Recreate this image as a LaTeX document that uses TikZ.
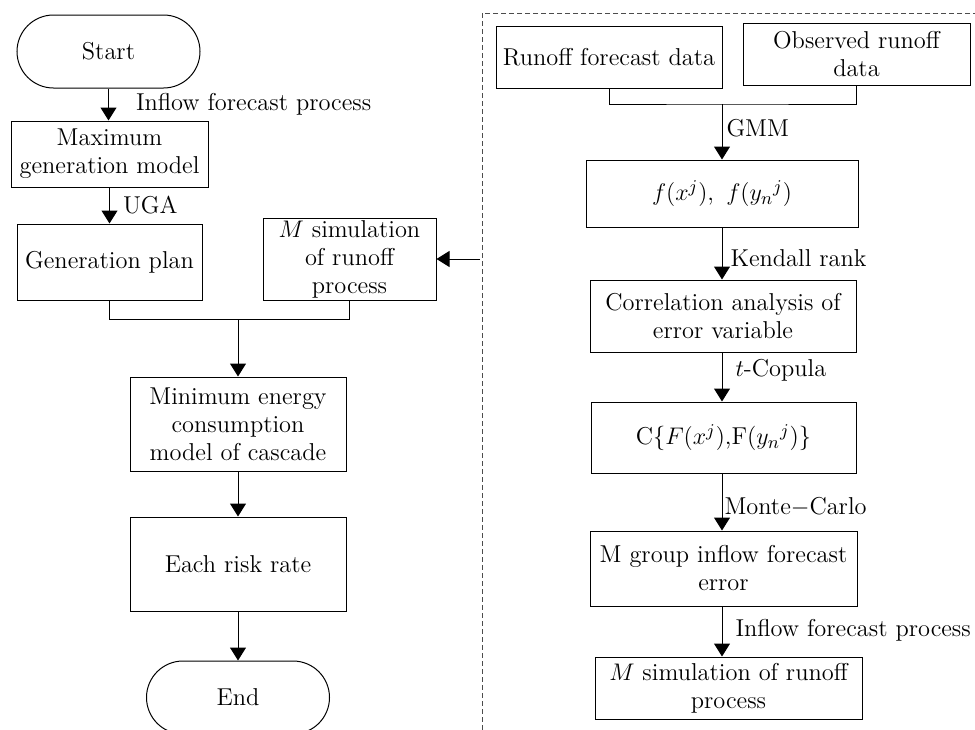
\documentclass[tikz,border=0pt]{standalone}
\usetikzlibrary{arrows.meta,positioning,calc}

\begin{document}
\begin{tikzpicture}[x=0.5pt,y=-0.5pt,
  font=\fontsize{12.2}{14}\selectfont,
  proc/.style={rectangle, draw, line width=0.5pt, align=center, inner sep=1pt},
  term/.style={rectangle, draw, line width=0.5pt, rounded corners=18.25pt, minimum width=91.5pt, minimum height=36.5pt},
  arrow/.style={line width=0.5pt, -{Triangle[length=6.5pt,width=8pt]}},
  lbl/.style={inner sep=1pt}
]
\useasboundingbox (0,0) rectangle (975,729);
\clip (0,0) rectangle (975,729);
% left column
\node[term] (start) at (108.5,51.5) {Start};
\node[proc, minimum width=98.5pt, minimum height=33pt] (maxgen) at (109.5,154) {Maximum\\generation model};
\node[proc, minimum width=92.5pt, minimum height=38pt] (plan) at (109.5,262) {Generation plan};
\node[proc, minimum width=86.5pt, minimum height=41pt] (simL) at (349.5,259) {$M$ simulation\\of runoff\\process};
\node[proc, minimum width=108pt, minimum height=47pt] (minen) at (238,424) {Minimum energy\\consumption\\model of cascade};
\node[proc, minimum width=108pt, minimum height=47pt] (risk) at (238,564) {Each risk rate};
\node[term] (end) at (238,697.5) {End};
% right column
\draw[dashed, dash pattern=on 2.5pt off 1.5pt, line width=0.5pt, black!70] (482,13) rectangle (990,745);
\node[proc, minimum width=113pt, minimum height=31pt] (fcdata) at (609,57) {Runoff forecast data};
\node[proc, minimum width=113.5pt, minimum height=31pt] (obsdata) at (856.5,54) {Observed runoff\\data};
\node[proc, minimum width=136pt, minimum height=33.5pt] (dens) at (722,193.5) {$f(x^j)$,\enspace$f(y_n{}^j)$};
\node[proc, minimum width=133pt, minimum height=36pt] (corr) at (723,316) {Correlation analysis of\\error variable};
\node[proc, minimum width=132.5pt, minimum height=35.5pt] (copula) at (723.5,437.5) {C\{$F(x^j)$,F($y_n{}^j$)\}};
\node[proc, minimum width=133.5pt, minimum height=37.5pt] (mgroup) at (723.5,568.5) {M group inflow forecast\\error};
\node[proc, minimum width=133.5pt, minimum height=31pt] (simR) at (728.5,688) {$M$ simulation of runoff\\process};

% connectors, left
\draw[arrow] (start.south) -- node[lbl, right=12.5pt] {Inflow forecast process} (start.south |- maxgen.north);
\draw[arrow] (maxgen.south) -- node[lbl, right=5.5pt] {UGA} (maxgen.south |- plan.north);
\coordinate (joinL) at (minen.north |- 0,319);
\draw[line width=0.5pt] (plan.south) -- (plan.south |- joinL) -- (simL.south |- joinL) -- (simL.south);
\draw[arrow] (joinL) -- (minen.north);
\draw[arrow] (minen) -- (risk);
\draw[arrow] (risk) -- (end);
\coordinate (feed) at (480,259);
\draw[arrow] (feed) -- (simL.east);

% connectors, right
\coordinate (joinR) at (dens.north |- 0,104);
\draw[line width=0.5pt] (fcdata.south) |- (joinR) -| (obsdata.south);
\draw[arrow] (joinR) -- node[lbl, pos=0.43, right=1pt] {GMM} (dens.north);
\draw[arrow] (dens.south) -- node[lbl, pos=0.58, right=3pt] {Kendall rank} (dens.south |- corr.north);
\draw[arrow] (dens.south |- corr.south) -- node[lbl, pos=0.36, right=5.5pt] {$t$-Copula} (dens.south |- copula.north);
\draw[arrow] (dens.south |- copula.south) -- node[lbl, pos=0.59, right=0pt] {Monte$-$Carlo} (dens.south |- mgroup.north);
\draw[arrow] (dens.south |- mgroup.south) -- node[lbl, pos=0.47, right=5.5pt] {Inflow forecast process} (dens.south |- simR.north);
\end{tikzpicture}
\end{document}
